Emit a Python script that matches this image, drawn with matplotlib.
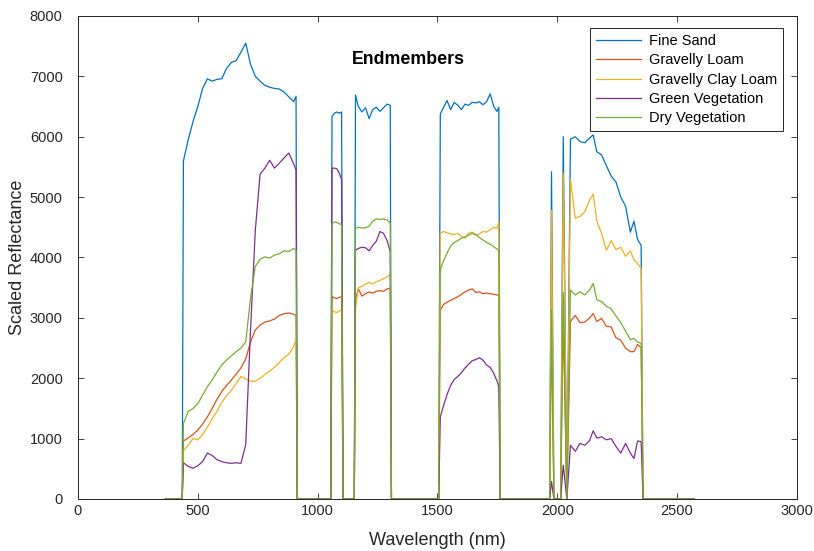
import matplotlib
matplotlib.use("Agg")
import matplotlib.pyplot as plt

plt.rcParams["font.family"] = ["Liberation Sans", "DejaVu Sans"]

# wavelength grid (nm); bad bands are stored as zero reflectance
wavelength = [365, 435,
              440, 460, 480, 500, 520, 540, 560, 580, 600, 620, 640, 660, 680,
              700, 720, 740, 760, 780, 800, 820, 840, 860, 880, 900, 910,
              915, 1055,
              1060, 1070, 1080, 1090, 1100,
              1106, 1153,
              1158, 1170, 1185, 1200, 1215, 1230, 1245, 1260, 1275, 1290, 1303,
              1308, 1505,
              1512, 1525, 1540, 1555, 1570, 1585, 1600, 1615, 1630, 1645, 1660,
              1675, 1690, 1705, 1720, 1735, 1748, 1756,
              1762, 1968, 1976, 1986, 2014, 2025, 2040,
              2055, 2075, 2095, 2115, 2135, 2150, 2165, 2185, 2205, 2225, 2245,
              2265, 2285, 2305, 2320, 2335, 2350,
              2358, 2570]

fine_sand = [0, 0,
             5600, 5950, 6250, 6500, 6800, 6960, 6920, 6950, 6960, 7130, 7230, 7260, 7400,
             7550, 7200, 7000, 6920, 6850, 6820, 6800, 6790, 6740, 6660, 6580, 6670,
             0, 0,
             6330, 6390, 6410, 6390, 6410,
             0, 0,
             6690, 6500, 6410, 6480, 6300, 6450, 6490, 6420, 6480, 6540, 6520,
             0, 0,
             6380, 6480, 6600, 6450, 6570, 6520, 6450, 6540, 6520, 6570, 6560,
             6580, 6530, 6580, 6710, 6500, 6420, 6490,
             0, 0, 5420, 0, 0, 6000, 0,
             5960, 6000, 5920, 5900, 5980, 6030, 5750, 5700, 5520, 5350, 5250,
             5000, 4850, 4420, 4600, 4300, 4200,
             0, 0]

gravelly_loam = [0, 0,
                 960, 1010, 1070, 1140, 1240, 1360, 1500, 1650, 1780, 1880, 1970, 2070, 2170,
                 2320, 2600, 2800, 2880, 2930, 2950, 2980, 3040, 3070, 3080, 3060, 3040,
                 0, 0,
                 3350, 3330, 3320, 3340, 3350,
                 0, 0,
                 3300, 3480, 3360, 3400, 3430, 3410, 3440, 3450, 3440, 3480, 3490,
                 0, 0,
                 3130, 3220, 3260, 3290, 3320, 3350, 3390, 3430, 3460, 3480, 3420,
                 3430, 3400, 3410, 3400, 3390, 3380, 3370,
                 0, 0, 2900, 0, 0, 3000, 0,
                 2940, 3040, 2920, 2930, 3000, 3070, 2940, 2990, 2860, 2850, 2670,
                 2630, 2500, 2440, 2440, 2560, 2500,
                 0, 0]

gravelly_clay_loam = [0, 0,
                      800, 890, 1000, 980, 1070, 1190, 1330, 1450, 1600, 1710, 1800, 1910, 2030,
                      1990, 1950, 1950, 2000, 2060, 2120, 2180, 2260, 2340, 2400, 2520, 2650,
                      0, 0,
                      3130, 3100, 3090, 3110, 3140,
                      0, 0,
                      3150, 3500, 3520, 3560, 3590, 3560, 3600, 3620, 3650, 3680, 3720,
                      0, 0,
                      4400, 4430, 4410, 4390, 4380, 4400, 4350, 4320, 4400, 4420, 4370,
                      4390, 4430, 4420, 4460, 4500, 4480, 4590,
                      0, 0, 4780, 0, 0, 5400, 0,
                      5300, 4650, 4680, 4760, 4950, 5050, 4600, 4400, 4120, 4280, 4130,
                      4170, 4020, 4110, 3960, 3900, 3820,
                      0, 0]

green_vegetation = [0, 0,
                    600, 540, 510, 550, 620, 760, 720, 650, 620, 600, 590, 600, 590,
                    900, 2800, 4450, 5380, 5480, 5610, 5480, 5560, 5650, 5730, 5550, 5450,
                    0, 0,
                    5480, 5480, 5470, 5400, 5290,
                    0, 0,
                    4120, 4150, 4170, 4160, 4110, 4200, 4270, 4430, 4400, 4280, 4100,
                    0, 0,
                    1360, 1540, 1730, 1880, 1980, 2030, 2090, 2170, 2230, 2290, 2310,
                    2340, 2300, 2220, 2180, 2080, 1960, 1860,
                    0, 0, 290, 0, 0, 560, 0,
                    890, 790, 920, 890, 970, 1130, 1010, 1030, 980, 1000, 870,
                    760, 920, 760, 670, 960, 950,
                    0, 0]

dry_vegetation = [0, 0,
                  1250, 1450, 1500, 1580, 1720, 1860, 1970, 2100, 2220, 2300, 2370, 2440, 2500,
                  2600, 3330, 3850, 3970, 4010, 3990, 4040, 4060, 4110, 4100, 4150, 4120,
                  0, 0,
                  4560, 4590, 4580, 4560, 4540,
                  0, 0,
                  4480, 4500, 4490, 4490, 4520, 4600, 4640, 4630, 4640, 4620, 4570,
                  0, 0,
                  3800, 3940, 4070, 4190, 4250, 4280, 4320, 4340, 4370, 4400, 4380,
                  4330, 4290, 4250, 4220, 4180, 4140, 4120,
                  0, 0, 3130, 0, 0, 3420, 0,
                  3460, 3380, 3430, 3380, 3460, 3570, 3300, 3270, 3190, 3150, 3030,
                  2920, 2780, 2640, 2660, 2600, 2580,
                  0, 0]

series = [("Fine Sand", fine_sand, "#0072BD"),
          ("Gravelly Loam", gravelly_loam, "#D95319"),
          ("Gravelly Clay Loam", gravelly_clay_loam, "#EDB120"),
          ("Green Vegetation", green_vegetation, "#7E2F8E"),
          ("Dry Vegetation", dry_vegetation, "#77AC30")]

fig = plt.figure(figsize=(8.14, 5.51), dpi=100)
ax = fig.add_axes([0.0958, 0.0944, 0.8832, 0.8766])

for name, vals, col in series:
    ax.plot(wavelength, vals, color=col, lw=0.9, label=name)

ax.set_xlim(0, 3000)
ax.set_ylim(0, 8000)
ax.set_xticks(range(0, 3001, 500))
ax.set_yticks(range(0, 8001, 1000))
ax.tick_params(direction="in", top=True, right=True, length=4, width=0.6,
               labelsize=10.5, colors="#262626")
ax.tick_params(axis="y", pad=11)
for sp in ax.spines.values():
    sp.set_color("#262626")
    sp.set_linewidth(0.7)

ax.set_xlabel("Wavelength (nm)", fontsize=13, color="#262626", labelpad=10)
ax.set_ylabel("Scaled Reflectance", fontsize=13, color="#262626", labelpad=3)
ax.text(0.459, 0.909, "Endmembers", transform=ax.transAxes, ha="center",
        va="center", fontsize=12.8, fontweight="bold")

leg = ax.legend(loc="upper right", bbox_to_anchor=(0.9805, 0.975), fontsize=10.5,
                fancybox=False, framealpha=1, edgecolor="#262626",
                handlelength=3.1, borderpad=0.4, labelspacing=0.37,
                handletextpad=0.55, borderaxespad=0)
leg.get_frame().set_linewidth(0.7)

fig.savefig("out.png", dpi=100)
